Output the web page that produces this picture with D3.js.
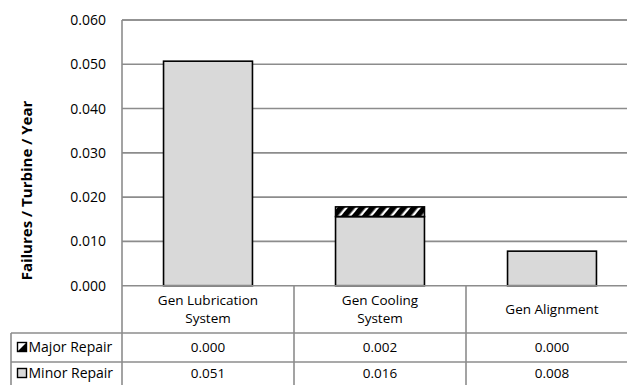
<!DOCTYPE html>
<html>
<head>
<meta charset="utf-8">
<script src="https://cdn.jsdelivr.net/npm/d3@7"></script>
<style>
  html, body { margin: 0; padding: 0; background: #fff; }
  svg { display: block; font-family: "Open Sans", "Liberation Sans", sans-serif; }
</style>
</head>
<body>
<svg id="chart" width="627" height="385"></svg>
<script>
// Failure rates per generator subsystem
const categories = [["Gen Lubrication", "System"], ["Gen Cooling", "System"], ["Gen Alignment"]];
const seriesNames = ["Major Repair", "Minor Repair"];
const majorRepair = [0.0000, 0.0022, 0.0000];
const minorRepair = [0.0507, 0.0156, 0.0078];
const yTicks = [0, 0.01, 0.02, 0.03, 0.04, 0.05, 0.06];

const svg = d3.select("#chart");
const W = 627, H = 385;

const plotLeft = 122, plotTop = 20, plotBottom = 285.7;
const step = 172;
const catKeys = categories.map(c => c.join(" "));

const x = d3.scaleBand()
  .domain(catKeys)
  .range([plotLeft, plotLeft + step * categories.length])
  .paddingInner(0.483)
  .paddingOuter(0.2415);

const y = d3.scaleLinear().domain([0, 0.06]).range([plotBottom, plotTop]);

// hatch for the major-repair segment
const defs = svg.append("defs");
defs.append("pattern")
  .attr("id", "hatch")
  .attr("patternUnits", "userSpaceOnUse")
  .attr("width", 8).attr("height", 8)
  .attr("patternTransform", "rotate(40)")
  .append("rect")
  .attr("x", 0).attr("y", 0).attr("width", 5.6).attr("height", 8)
  .attr("fill", "#000");

const gridColor = "#8c8c8c";

// gridlines
svg.append("g")
  .selectAll("line")
  .data(yTicks.slice(1))
  .join("line")
  .attr("x1", plotLeft).attr("x2", W)
  .attr("y1", d => y(d)).attr("y2", d => y(d))
  .attr("stroke", gridColor).attr("stroke-width", 1.6);

// y axis labels
const yAxis = d3.axisLeft(y).tickValues(yTicks).tickFormat(d3.format(".3f")).tickSize(0).tickPadding(16);
const gy = svg.append("g").attr("transform", `translate(${plotLeft},0)`).call(yAxis);
gy.select(".domain").remove();
gy.selectAll("text")
  .attr("font-family", "Open Sans, sans-serif")
  .attr("font-size", 14)
  .attr("fill", "#000");

// bars
const stack = categories.map((c, i) => ({
  key: catKeys[i],
  minor: minorRepair[i],
  major: majorRepair[i]
}));

const bars = svg.append("g");
bars.selectAll("rect.minor")
  .data(stack)
  .join("rect")
  .attr("class", "minor")
  .attr("x", d => x(d.key))
  .attr("width", x.bandwidth())
  .attr("y", d => y(d.minor))
  .attr("height", d => y(0) - y(d.minor))
  .attr("fill", "#d9d9d9")
  .attr("stroke", "#000").attr("stroke-width", 1.6);

bars.selectAll("rect.major")
  .data(stack.filter(d => d.major > 0))
  .join("rect")
  .attr("class", "major")
  .attr("x", d => x(d.key))
  .attr("width", x.bandwidth())
  .attr("y", d => y(d.minor + d.major))
  .attr("height", d => y(d.minor) - y(d.minor + d.major))
  .attr("fill", "url(#hatch)")
  .attr("stroke", "#000").attr("stroke-width", 1.6);

// data table
const rowTop = [plotBottom, 333, 362, H];
const tableLeft = 11;
const t = svg.append("g");

// horizontal rules
t.append("line").attr("x1", plotLeft).attr("x2", W).attr("y1", rowTop[0]).attr("y2", rowTop[0])
  .attr("stroke", gridColor).attr("stroke-width", 1.6);
[rowTop[1], rowTop[2]].forEach(yy => {
  t.append("line").attr("x1", tableLeft).attr("x2", W).attr("y1", yy).attr("y2", yy)
    .attr("stroke", gridColor).attr("stroke-width", 1.6);
});
// vertical rules
t.append("line").attr("x1", tableLeft).attr("x2", tableLeft).attr("y1", rowTop[1]).attr("y2", H)
  .attr("stroke", gridColor).attr("stroke-width", 1.6);
t.append("line").attr("x1", plotLeft).attr("x2", plotLeft).attr("y1", plotTop).attr("y2", H)
  .attr("stroke", gridColor).attr("stroke-width", 1.6);
catKeys.forEach((k, i) => {
  const xe = x(k) - x.step() * x.paddingInner() / 2 + x.step();
  t.append("line").attr("x1", xe).attr("x2", xe).attr("y1", rowTop[0]).attr("y2", H)
    .attr("stroke", gridColor).attr("stroke-width", 1.6);
});
// top rule of the plot area
t.append("line").attr("x1", plotLeft).attr("x2", W).attr("y1", plotTop).attr("y2", plotTop)
  .attr("stroke", gridColor).attr("stroke-width", 1.6);

const fontSize = 13.5;
// header: category names
categories.forEach((lines, i) => {
  const cx = x(catKeys[i]) + x.bandwidth() / 2;
  const midY = (rowTop[0] + rowTop[1]) / 2;
  const lh = 18;
  const txt = t.append("text")
    .attr("text-anchor", "middle")
    .attr("font-size", fontSize)
    .attr("fill", "#000");
  lines.forEach((ln, j) => {
    txt.append("tspan")
      .attr("x", cx)
      .attr("y", midY + (j - (lines.length - 1) / 2) * lh)
      .attr("dy", "0.35em")
      .text(ln);
  });
});

// value rows
const rows = [majorRepair, minorRepair];
const fmt = d3.format(".3f");
rows.forEach((vals, r) => {
  const midY = (rowTop[r + 1] + rowTop[r + 2]) / 2;
  vals.forEach((v, i) => {
    t.append("text")
      .attr("x", x(catKeys[i]) + x.bandwidth() / 2)
      .attr("y", midY)
      .attr("dy", "0.35em")
      .attr("text-anchor", "middle")
      .attr("font-size", fontSize)
      .attr("fill", "#000")
      .text(fmt(v));
  });
  // legend key + series name
  const ky = midY - 5;
  if (r === 0) {
    t.append("rect").attr("x", 17.5).attr("y", ky).attr("width", 9).attr("height", 9)
      .attr("fill", "#fff").attr("stroke", "#000").attr("stroke-width", 1.4);
    t.append("path")
      .attr("d", `M${26.5},${ky} L${26.5},${ky + 9} L${17.5},${ky + 9} Z`)
      .attr("fill", "#000");
  } else {
    t.append("rect").attr("x", 17.5).attr("y", ky).attr("width", 9).attr("height", 9)
      .attr("fill", "#d9d9d9").attr("stroke", "#000").attr("stroke-width", 1.4);
  }
  t.append("text")
    .attr("x", 28.5)
    .attr("y", midY)
    .attr("dy", "0.35em")
    .attr("font-size", 14)
    .attr("fill", "#000")
    .text(seriesNames[r]);
});

// axis title
svg.append("text")
  .attr("transform", `translate(32,${190.5}) rotate(-90)`)
  .attr("text-anchor", "middle")
  .attr("font-size", 15)
  .attr("font-weight", "bold")
  .attr("fill", "#000")
  .text("Failures / Turbine / Year");
</script>
</body>
</html>
